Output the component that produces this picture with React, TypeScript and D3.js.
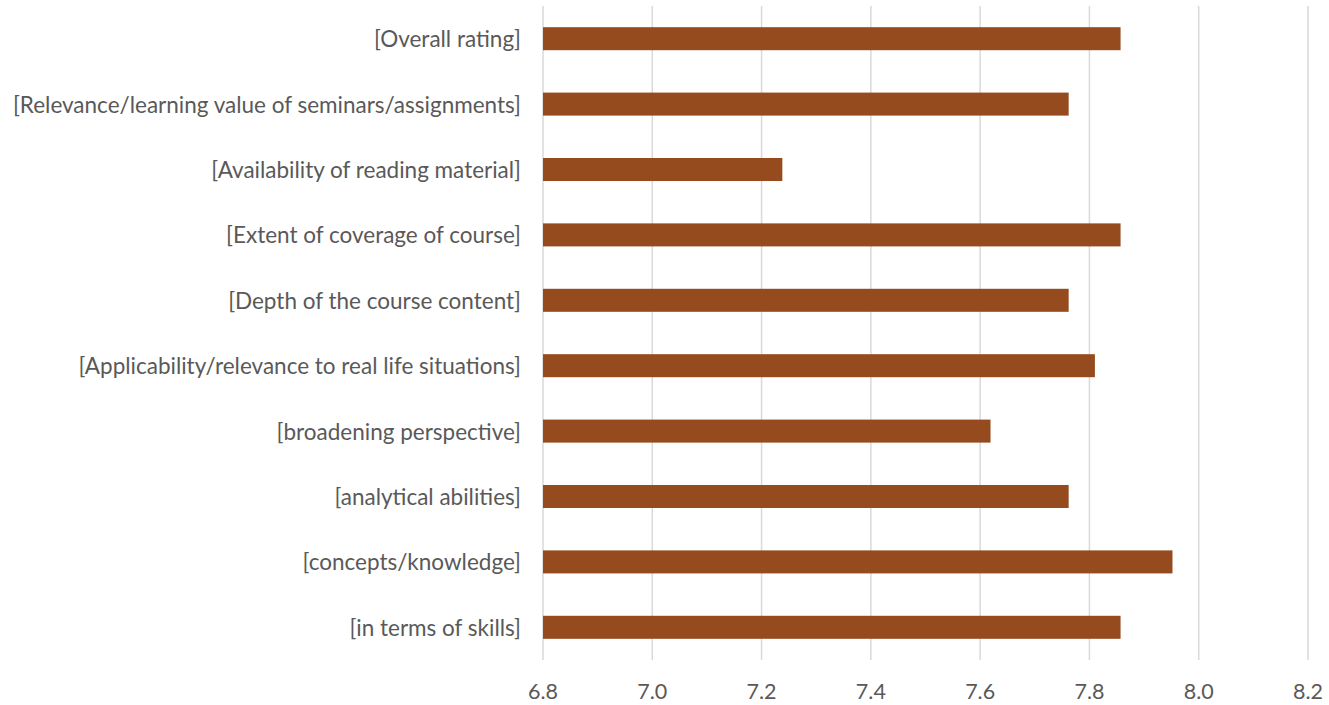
import React from "react";
import * as d3 from "d3";

// categories top to bottom, as in the picture
const categories = [
  "[Overall rating]",
  "[Relevance/learning value of seminars/assignments]",
  "[Availability of reading material]",
  "[Extent of coverage of course]",
  "[Depth of the course content]",
  "[Applicability/relevance to real life situations]",
  "[broadening perspective]",
  "[analytical abilities]",
  "[concepts/knowledge]",
  "[in terms of skills]",
];
const scores = [7.857, 7.762, 7.238, 7.857, 7.762, 7.81, 7.619, 7.762, 7.952, 7.857];
const xTicks = [6.8, 7.0, 7.2, 7.4, 7.6, 7.8, 8.0, 8.2];

const W = 1329;
const H = 705;
const margin = { top: 6, right: 21, bottom: 45, left: 543 };
const font = "Lato, 'Noto Sans', sans-serif";

export default function App() {
  const x = d3.scaleLinear().domain([6.8, 8.2]).range([margin.left, W - margin.right]);
  const pad = 0.648;
  const y = d3
    .scaleBand()
    .domain(categories)
    .range([margin.top, H - margin.bottom])
    .paddingInner(pad)
    .paddingOuter(pad / 2);

  return (
    <svg
      width={W}
      height={H}
      style={{ position: "absolute", left: 0, top: 0, background: "#fff" }}
    >
      {/* gridlines */}
      {xTicks.map((t) => (
        <line
          key={t}
          x1={x(t)}
          x2={x(t)}
          y1={margin.top}
          y2={H - margin.bottom}
          stroke="#d9d9d9"
          strokeWidth={1.5}
        />
      ))}
      {categories.map((c, i) => (
        <rect
          key={c}
          x={x(6.8)}
          y={y(c)}
          width={x(scores[i]) - x(6.8)}
          height={y.bandwidth()}
          fill="#954b1e"
        />
      ))}
      {categories.map((c) => (
        <text
          key={c}
          x={margin.left - 22}
          y={y(c) + y.bandwidth() / 2}
          textAnchor="end"
          dominantBaseline="central"
          fontFamily={font}
          fontSize={22.5}
          fill="#595959"
        >
          {c}
        </text>
      ))}
      {xTicks.map((t) => (
        <text
          key={t}
          x={x(t)}
          y={691}
          textAnchor="middle"
          dominantBaseline="central"
          fontFamily={font}
          fontSize={21.5}
          fill="#595959"
        >
          {d3.format(".1f")(t)}
        </text>
      ))}
    </svg>
  );
}
